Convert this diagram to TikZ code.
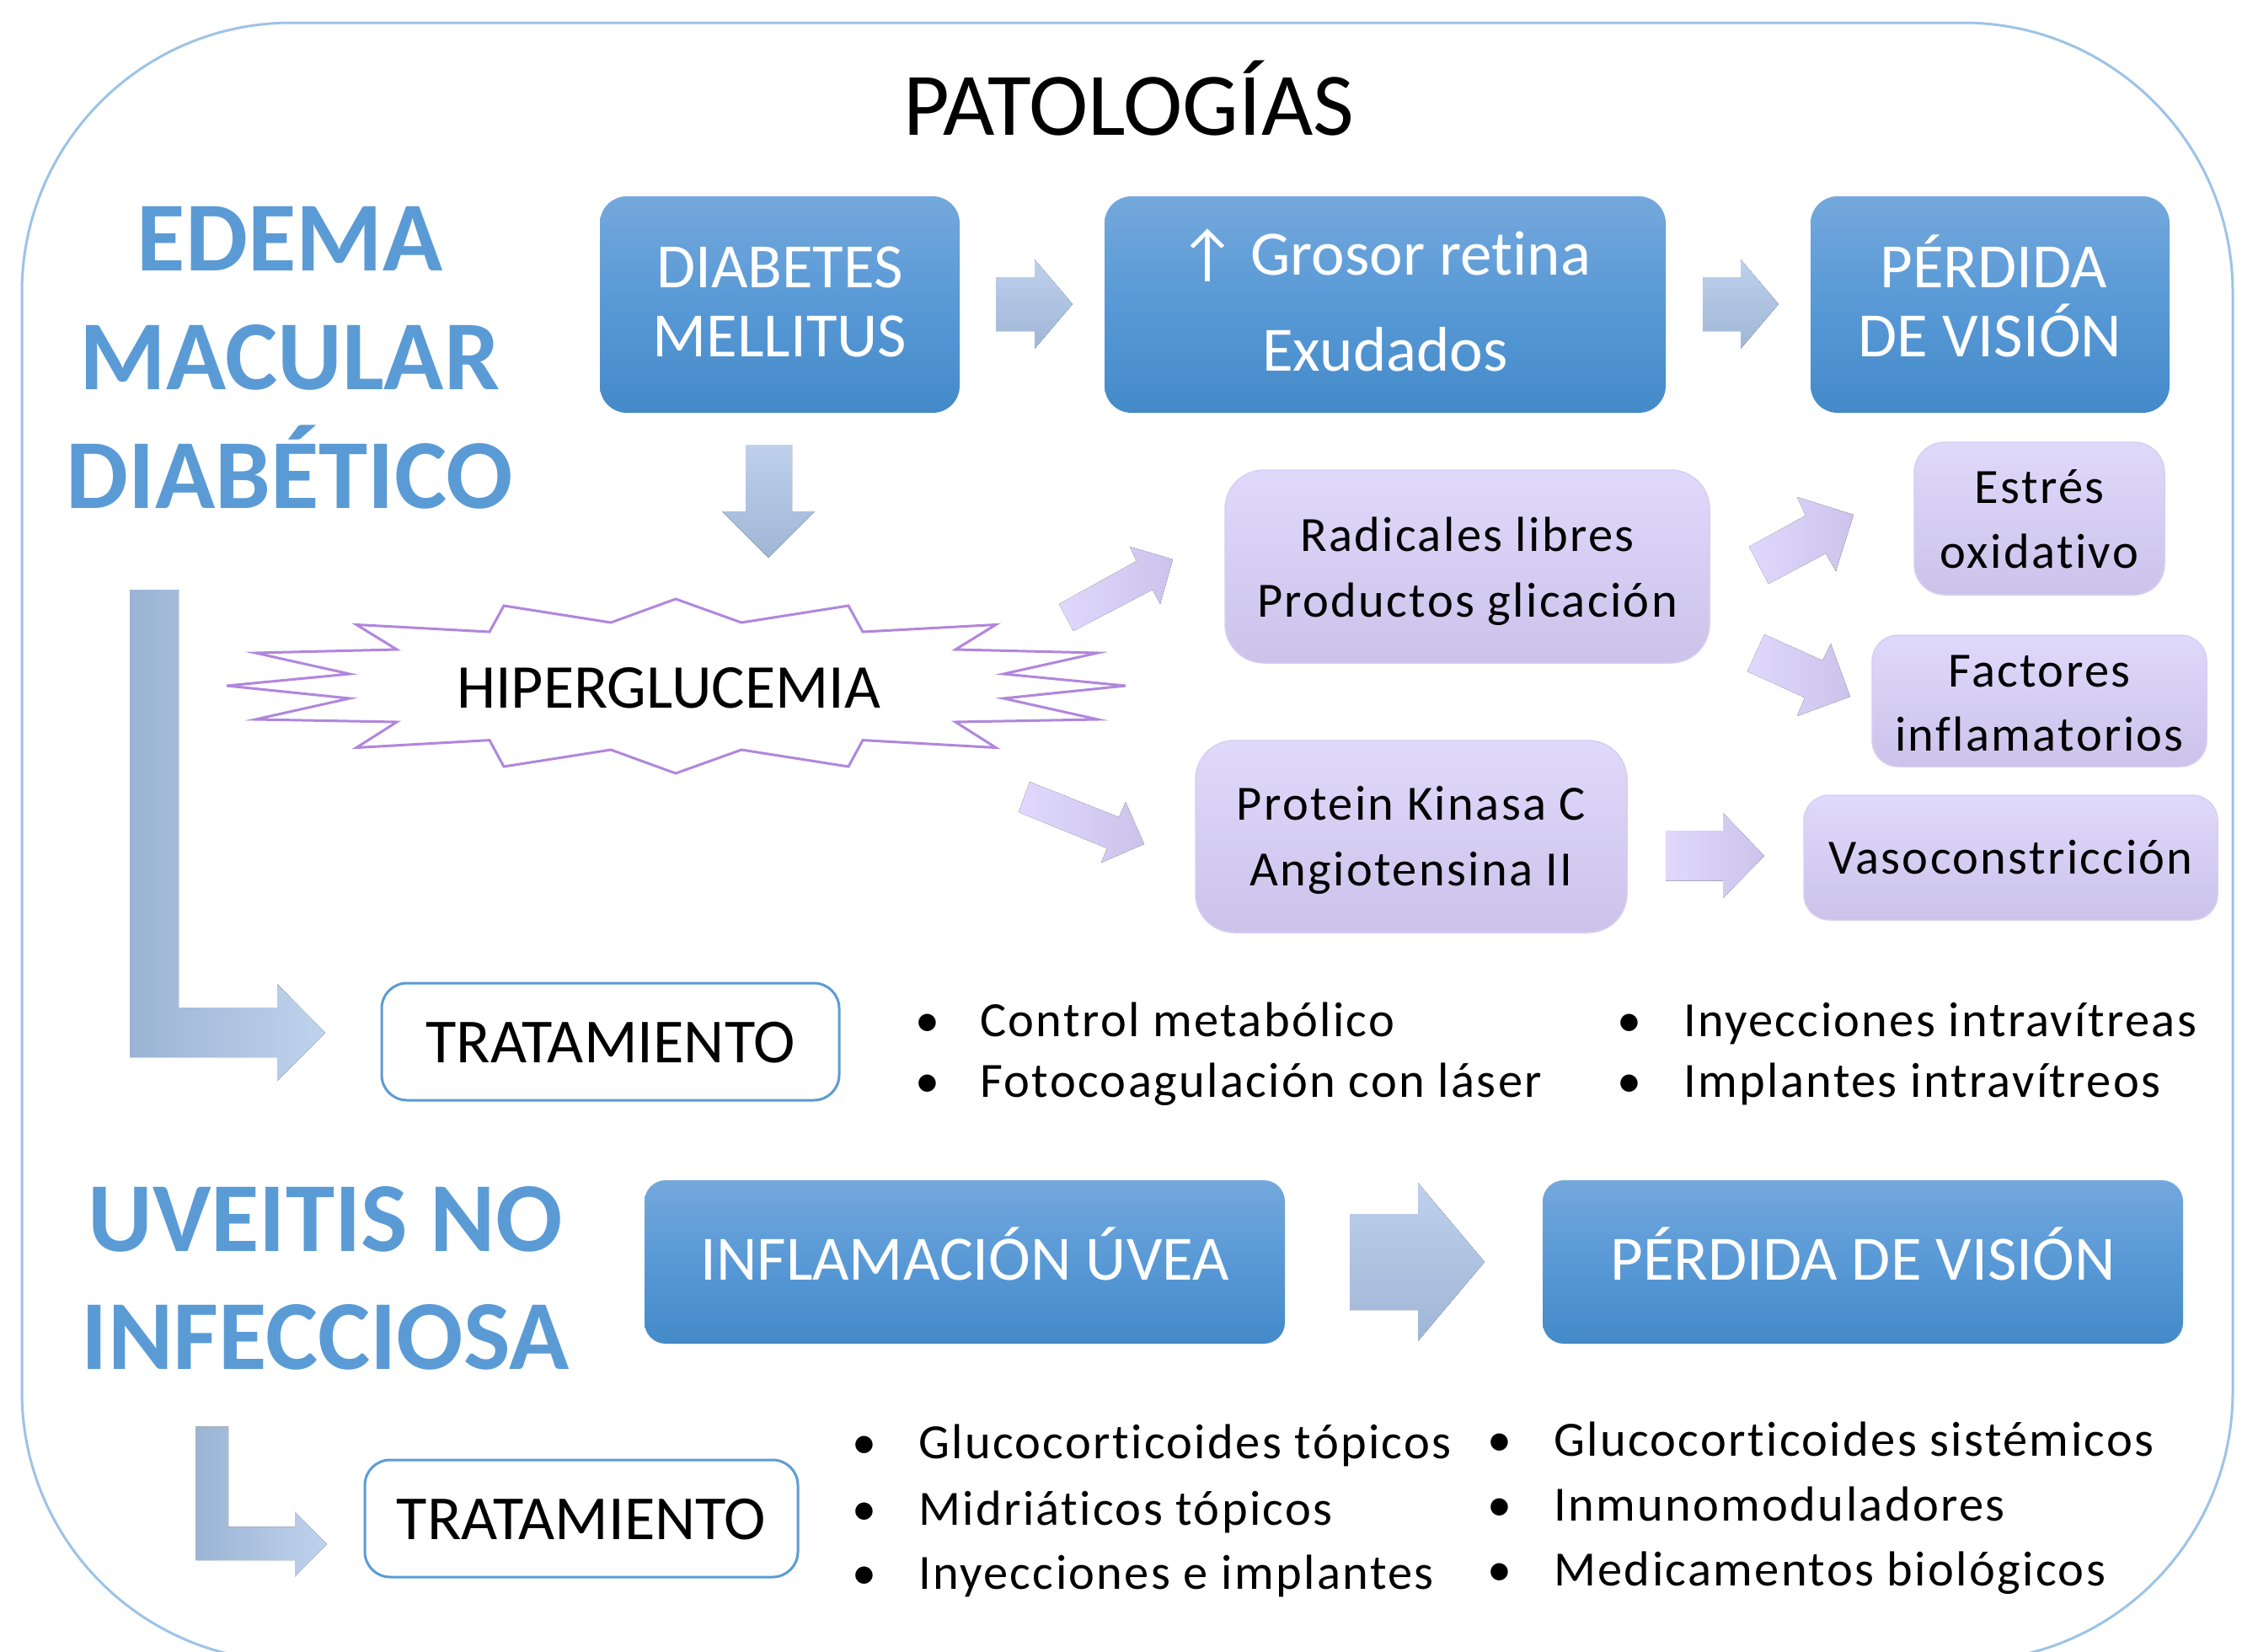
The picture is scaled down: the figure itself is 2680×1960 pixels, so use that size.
\documentclass[tikz,border=0pt]{standalone}
\usepackage{fontspec}
\setmainfont{Carlito}[Ligatures=NoCommon]
\newfontfamily\smallfont{Carlito}[Ligatures=NoCommon, LetterSpace=4]
\definecolor{hdblue}{RGB}{91,155,213}
\definecolor{btop}{RGB}{116,168,220}
\definecolor{bmid}{RGB}{88,153,214}
\definecolor{bbot}{RGB}{68,138,201}
\definecolor{ltop}{RGB}{223,217,251}
\definecolor{lbot}{RGB}{203,195,234}
\definecolor{lline}{RGB}{214,206,242}
\definecolor{aTop}{RGB}{190,208,236}
\definecolor{aBot}{RGB}{160,182,214}
\definecolor{lvA}{RGB}{224,217,253}
\definecolor{lvB}{RGB}{203,195,235}
\definecolor{frameblue}{RGB}{157,195,230}
\definecolor{starline}{RGB}{177,134,221}
\definecolor{Ldark}{RGB}{155,180,212}
\definecolor{Llight}{RGB}{192,211,237}
\tikzset{
  bluebox/.style={rectangle, rounded corners=32pt, top color=btop, bottom color=bbot, middle color=bmid, inner sep=0pt},
  lavbox/.style={rectangle, top color=ltop, bottom color=lbot, draw=lline, line width=1.5pt, inner sep=0pt},
  tratbox/.style={rectangle, rounded corners=30pt, draw=hdblue, line width=3pt, fill=white, inner sep=0pt},
  wtxt/.style={text=white, font=\fontsize{75}{90}\selectfont, anchor=base, inner sep=0pt},
  btxt/.style={text=black, font=\fontsize{74}{88}\selectfont, anchor=base, inner sep=0pt},
  ltxt/.style={text=black, font=\smallfont\fontsize{58.5}{70}\selectfont, anchor=base, inner sep=0pt},
  litem/.style={text=black, font=\smallfont\fontsize{58.5}{70}\selectfont, anchor=base west, inner sep=0pt},
  bul/.style={text=black, font=\fontsize{58}{70}\selectfont, anchor=base, inner sep=0pt},
  head/.style={text=hdblue, font=\fontsize{117.5}{140}\bfseries\selectfont, anchor=base, inner sep=0pt},
  bluearrow/.style={top color=aTop, bottom color=aBot},
  lavarrow/.style={left color=lvA, right color=lvB},
  Larrow/.style={left color=Ldark, right color=Llight}
}
\begin{document}
\begin{tikzpicture}[x=1pt,y=-1pt]
\useasboundingbox (0,0) rectangle (2680,1960);
% outer frame
\draw[frameblue, line width=3pt, rounded corners=320pt] (26,27) rectangle (2650,1972);

% title
\node[text=black, font=\fontsize{106}{127}\selectfont, anchor=base, inner sep=0pt] (title) at (1340,160.7) {PATOLOGÍAS};

% headings
\node[head] (h1) at (344,321) {EDEMA};
\node[head] (h2) at (344,462) {MACULAR};
\node[head] (h3) at (344,603) {DIABÉTICO};
\node[head] (h4) at (386,1485) {UVEITIS NO};
\node[head] (h5) at (386,1625) {INFECCIOSA};

% blue boxes top row
\node[bluebox, minimum width=427pt, minimum height=257pt] (dm) at (925.5,361.5) {};
\node[wtxt] (dmA) at (925.5,341.5) {DIABETES};
\node[wtxt] (dmB) at (925.5,423) {MELLITUS};
\node[bluebox, minimum width=666pt, minimum height=257pt] (gr) at (1644,361.5) {};
\node[wtxt] (grA) at (1644,326) {↑ Grosor retina};
\node[wtxt] (grB) at (1644,440) {Exudados};
\node[bluebox, minimum width=426pt, minimum height=257pt] (pv) at (2362,361.5) {};
\node[wtxt] (pvA) at (2366,341.5) {PÉRDIDA};
\node[wtxt] (pvB) at (2362,423) {DE VISIÓN};

% arrows top row
\fill[bluearrow] (1182,329) -- (1228,329) -- (1228,308) -- (1273,361) -- (1228,414) -- (1228,393) -- (1182,393) -- cycle;
\fill[bluearrow] (2021,329) -- (2066,329) -- (2066,308) -- (2111,361) -- (2066,414) -- (2066,393) -- (2021,393) -- cycle;
% down arrow
\fill[bluearrow] (885,528) -- (940,528) -- (940,607) -- (967,607) -- (912,662) -- (857,607) -- (885,607) -- cycle;

% starburst
\draw[starline, line width=3pt, fill=white, line join=miter]
 (802,711) -- (880,739) -- (1007,719) -- (1024,750) -- (1182,741.5) -- (1134,771) -- (1303,775) -- (1191,800) -- (1336,814)
 -- (1191,829) -- (1303,854) -- (1134,857) -- (1182,887.5) -- (1024,878.6) -- (1007,910) -- (880,890) -- (802,918)
 -- (725,890) -- (598,910) -- (581,878.6) -- (423,887.5) -- (471,857) -- (303,854) -- (415,829) -- (269,814)
 -- (415,800) -- (303,775) -- (471,771) -- (423,741.5) -- (581,750) -- (598,719) -- (725,739) -- cycle;
\node[btxt] (hip) at (793.5,840) {HIPERGLUCEMIA};

% lavender arrows
\fill[lavarrow] (1257,717) -- (1349,666) -- (1341,649) -- (1392,664) -- (1377,717) -- (1368,700) -- (1274,749) -- cycle;
\fill[lavarrow] (1222,928) -- (1328,970) -- (1336,952) -- (1358,1002) -- (1307,1024) -- (1314,1007) -- (1209,964) -- cycle;
\fill[lavarrow] (2076,649) -- (2143,612) -- (2133,590) -- (2200,611) -- (2179,678) -- (2167,657) -- (2099,693) -- cycle;
\fill[lavarrow] (2094,753) -- (2163,784) -- (2173,764) -- (2196,827) -- (2133,850) -- (2142,828) -- (2074,797) -- cycle;
\fill[lavarrow] (1977,986) -- (2045,986) -- (2045,965) -- (2094,1016) -- (2045,1066) -- (2045,1045.5) -- (1977,1045.5) -- cycle;

% lavender boxes
\node[lavbox, rounded corners=46pt, minimum width=575pt, minimum height=229pt] (rad) at (1741.5,672.5) {};
\node[ltxt] (radA) at (1741.5,654) {Radicales libres};
\node[ltxt] (radB) at (1741.5,732) {Productos glicación};
\node[lavbox, rounded corners=36pt, minimum width=297pt, minimum height=181pt] (est) at (2420.5,615.5) {};
\node[ltxt] (estA) at (2420.5,597) {Estrés};
\node[ltxt] (estB) at (2420.5,674) {oxidativo};
\node[lavbox, rounded corners=31pt, minimum width=397pt, minimum height=156pt] (fac) at (2420.5,832) {};
\node[ltxt] (facA) at (2420.5,815) {Factores};
\node[ltxt] (facB) at (2420.5,891) {inflamatorios};
\node[lavbox, rounded corners=46pt, minimum width=512pt, minimum height=228pt] (pk) at (1675,993) {};
\node[ltxt] (pkA) at (1675,973) {Protein Kinasa C};
\node[ltxt] (pkB) at (1675,1051) {Angiotensina II};
\node[lavbox, rounded corners=30pt, minimum width=491pt, minimum height=148pt] (vaso) at (2386.5,1018) {};
\node[ltxt] (vasoT) at (2386.5,1037) {Vasoconstricción};

% L arrow top
\fill[Larrow] (154,700) -- (212,700) -- (212,1196) -- (329,1196) -- (329,1168) -- (386,1226) -- (329,1283) -- (329,1255) -- (154,1255) -- cycle;
\node[tratbox, minimum width=543pt, minimum height=139pt] (tr1) at (724.5,1236.5) {};
\node[btxt, font=\fontsize{74.5}{86}\selectfont] (tr1t) at (724.5,1261.6) {TRATAMIENTO};

% bullets top
\node[bul] (b1) at (1101,1230) {•};
\node[litem] (t1) at (1163,1230) {Control metabólico};
\node[bul] (b2) at (1101,1302) {•};
\node[litem] (t2) at (1163,1302) {Fotocoagulación con láser};
\node[bul] (b3) at (1934,1230) {•};
\node[litem] (t3) at (1998,1230) {Inyecciones intravítreas};
\node[bul] (b4) at (1934,1302) {•};
\node[litem] (t4) at (1998,1302) {Implantes intravítreos};

% uveitis row
\node[bluebox, rounded corners=25pt, minimum width=760pt, minimum height=194pt] (inf) at (1145,1498) {};
\node[wtxt] (infT) at (1145,1519) {INFLAMACIÓN ÚVEA};
\fill[bluearrow] (1602,1441) -- (1683,1441) -- (1683,1404) -- (1762,1498) -- (1683,1592) -- (1683,1555) -- (1602,1555) -- cycle;
\node[bluebox, rounded corners=25pt, minimum width=760pt, minimum height=194pt] (pv2) at (2211,1498) {};
\node[wtxt] (pv2T) at (2211,1519) {PÉRDIDA DE VISIÓN};

% L arrow bottom
\fill[Larrow] (232,1693.5) -- (271,1693.5) -- (271,1812.6) -- (350,1812.6) -- (350,1794.5) -- (388,1833) -- (350,1871.5) -- (350,1852) -- (232,1852) -- cycle;
\node[tratbox, minimum width=514pt, minimum height=139pt] (tr2) at (690,1802.5) {};
\node[btxt, font=\fontsize{74.5}{86}\selectfont] (tr2t) at (690,1827) {TRATAMIENTO};

% bullets bottom
\node[bul] (c1) at (1026,1731) {•};
\node[litem] (u1) at (1090,1731) {Glucocorticoides tópicos};
\node[bul] (c2) at (1026,1810) {•};
\node[litem] (u2) at (1090,1810) {Midriáticos tópicos};
\node[bul] (c3) at (1026,1886) {•};
\node[litem] (u3) at (1090,1886) {Inyecciones e implantes};
\node[bul] (c4) at (1780,1728.5) {•};
\node[litem] (u4) at (1844,1728.5) {Glucocorticoides sistémicos};
\node[bul] (c5) at (1780,1805) {•};
\node[litem] (u5) at (1844,1805) {Inmunomoduladores};
\node[bul] (c6) at (1780,1882) {•};
\node[litem] (u6) at (1844,1882) {Medicamentos biológicos};
\end{tikzpicture}
\end{document}
